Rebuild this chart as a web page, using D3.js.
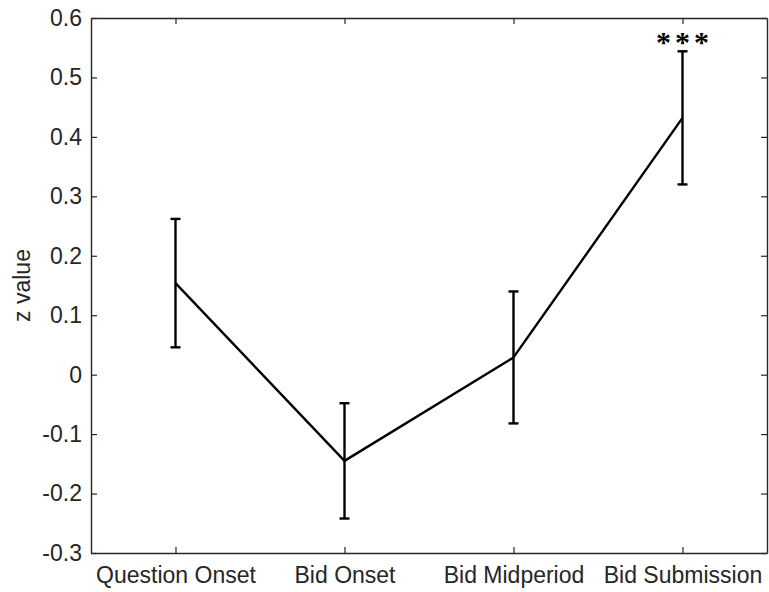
<!DOCTYPE html>
<html>
<head>
<meta charset="utf-8">
<script src="https://cdn.jsdelivr.net/npm/d3@7"></script>
<style>
  html, body { margin: 0; padding: 0; background: #fff; }
  svg { display: block; }
</style>
</head>
<body>
<script>
// Event-locked z values with standard-error bars
const categories = ["Question Onset", "Bid Onset", "Bid Midperiod", "Bid Submission"];
const means = [0.154, -0.145, 0.029, 0.432];
const errors = [0.108, 0.097, 0.111, 0.112];
const yTicks = [-0.3, -0.2, -0.1, 0, 0.1, 0.2, 0.3, 0.4, 0.5, 0.6];
const yTickLabels = ["-0.3", "-0.2", "-0.1", "0", "0.1", "0.2", "0.3", "0.4", "0.5", "0.6"];
const significance = ["", "", "", "***"];

(function draw() {
  const W = 769, H = 592;
  const pLeft = 91, pRight = 767, pTop = 18, pBottom = 553;
  const axisColor = "#262626";
  const font = "'Liberation Sans', Arial, Helvetica, sans-serif";
  const fontSize = "23px";

  const svg = d3.select("body").append("svg").attr("width", W).attr("height", H);

  const x = d3.scaleLinear().domain([0.5, categories.length + 0.5]).range([pLeft, pRight]);
  const y = d3.scaleLinear().domain([-0.3, 0.6]).range([pBottom, pTop]);

  const data = categories.map((c, i) => ({ c, i: i + 1, m: means[i], e: errors[i], s: significance[i] }));

  // Axes (box with inward ticks on all four sides)
  const tickLen = 6;
  const axG = svg.append("g");
  const xAxisB = d3.axisBottom(x).tickValues(data.map(d => d.i)).tickFormat((d, i) => categories[i]).tickSizeInner(-tickLen).tickSizeOuter(0).tickPadding(14);
  const xAxisT = d3.axisTop(x).tickValues(data.map(d => d.i)).tickFormat("").tickSizeInner(-tickLen).tickSizeOuter(0);
  const yAxisL = d3.axisLeft(y).tickValues(yTicks).tickFormat((d, i) => yTickLabels[i]).tickSizeInner(-tickLen).tickSizeOuter(0).tickPadding(9);
  const yAxisR = d3.axisRight(y).tickValues(yTicks).tickFormat("").tickSizeInner(-tickLen).tickSizeOuter(0);

  const gB = axG.append("g").attr("transform", `translate(0,${pBottom})`).call(xAxisB);
  const gT = axG.append("g").attr("transform", `translate(0,${pTop})`).call(xAxisT);
  const gL = axG.append("g").attr("transform", `translate(${pLeft},0)`).call(yAxisL);
  const gR = axG.append("g").attr("transform", `translate(${pRight},0)`).call(yAxisR);

  [gB, gT, gL, gR].forEach(g => {
    g.selectAll(".domain").attr("stroke", axisColor).attr("stroke-width", 1.4);
    g.selectAll(".tick line").attr("stroke", axisColor).attr("stroke-width", 1.2);
    g.selectAll(".tick text").attr("fill", axisColor).style("font-family", font).style("font-size", fontSize);
  });

  // Y axis title
  svg.append("text")
    .attr("transform", `translate(30,${(pTop + pBottom) / 2}) rotate(-90)`)
    .attr("text-anchor", "middle")
    .attr("fill", axisColor)
    .style("font-family", font)
    .style("font-size", fontSize)
    .text("z value");

  // Error bars
  const capHalf = 5;
  const eb = svg.append("g").attr("stroke", "#000").attr("stroke-width", 2.4).attr("fill", "none");
  data.forEach(d => {
    const cx = x(d.i), y1 = y(d.m + d.e), y0 = y(d.m - d.e);
    eb.append("line").attr("x1", cx).attr("x2", cx).attr("y1", y1).attr("y2", y0);
    eb.append("line").attr("x1", cx - capHalf).attr("x2", cx + capHalf).attr("y1", y1).attr("y2", y1);
    eb.append("line").attr("x1", cx - capHalf).attr("x2", cx + capHalf).attr("y1", y0).attr("y2", y0);
  });

  // Mean line
  svg.append("path")
    .datum(data)
    .attr("fill", "none")
    .attr("stroke", "#000")
    .attr("stroke-width", 2.4)
    .attr("stroke-linejoin", "round")
    .attr("d", d3.line().x(d => x(d.i)).y(d => y(d.m)));

  // Significance markers
  const starSpacing = 4;
  svg.append("g").selectAll("text")
    .data(data.filter(d => d.s))
    .join("text")
    .attr("x", d => x(d.i) + starSpacing / 2)
    .attr("y", d => y(d.m + d.e) + 1)
    .attr("text-anchor", "middle")
    .style("font-family", "'Liberation Serif', 'Times New Roman', serif")
    .style("font-size", "30px")
    .style("font-weight", "bold")
    .style("letter-spacing", `${starSpacing}px`)
    .attr("fill", "#000")
    .text(d => d.s);
})();
</script>
</body>
</html>
